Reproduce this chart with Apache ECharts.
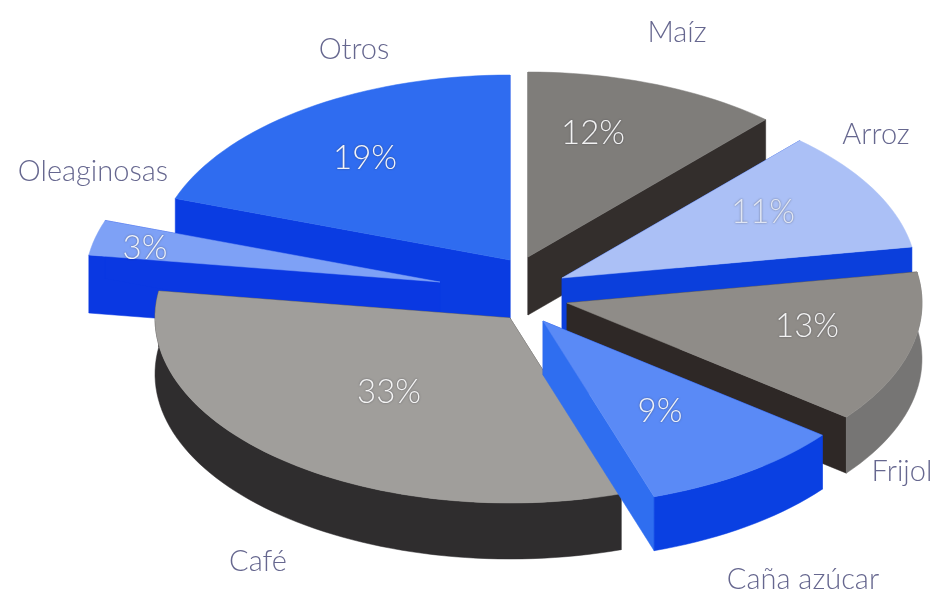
<!DOCTYPE html>
<html>
<head>
<meta charset="utf-8">
<script src="https://cdn.jsdelivr.net/npm/echarts@6/dist/echarts.min.js"></script>
<style>html,body{margin:0;padding:0;background:#fff}#chart{width:936px;height:604px}</style>
</head>
<body>
<div id="chart"></div>
<script>
// Crop shares, in percent, clockwise from twelve o'clock
const categories = ['Maíz', 'Arroz', 'Frijol', 'Caña azúcar', 'Café', 'Oleaginosas', 'Otros'];
const shares = [12, 11, 13, 9, 33, 3, 19];

// Projection of the tilted disc
const RX = 355, RY = 185, DEPTH = 56;
// Side sectors look slightly turned towards the back under the oblique view
const SIDE_SKEW = 2.5 * Math.PI / 180;

// Per-slice drawing details: exploded apex, paint order, colours and text anchors
const sliceStyle = {
  'Maíz':        {apex: [528, 257], order: 1, depth: 58, top: '#7f7d7a', rim: '#4a4644', start: '#332e2c', end: '#332e2c', pct: [593, 133], pctFill: '#f2f2f2', name: [677, 33]},
  'Arroz':       {apex: [562, 278], order: 3, depth: 56, top: '#abc0f6', rim: '#0b3fdc', start: '#0b3fdc', end: '#0b3fdc', pct: [763, 212], pctFill: '#dfe5f4', name: [876, 135]},
  'Frijol':      {apex: [567, 303], order: 4, depth: 56, top: '#8f8c88', rim: '#767574', start: '#2e2826', end: '#2e2826', pct: [807, 326], pctFill: '#f2f2f2', name: [902, 472]},
  'Caña azúcar': {apex: [543, 321], order: 6, depth: 54, top: '#5a8af6', rim: '#0a40e2', start: '#0a40e2', end: '#2f6ef0', pct: [660, 411], pctFill: '#eef2fb', name: [803, 580]},
  'Café':        {apex: [510, 318], order: 5, depth: 56, top: '#a09e9b', rim: '#2f2d2e', start: '#2f2d2e', end: '#2f2d2e', pct: [389, 392], pctFill: '#f4f4f4', name: [258, 562]},
  'Oleaginosas': {apex: [440, 282], order: 2, depth: 58, top: '#7ea1f6', rim: '#0a38e2', start: '#0a38e2', end: '#0a38e2', pct: [145, 248], pctFill: '#eef2fb', name: [93, 172]},
  'Otros':       {apex: [510, 260], order: 0, depth: 66, top: '#2f6cf0', rim: '#0a3ce2', start: '#0a3ce2', end: '#0a3ce2', pct: [365, 158], pctFill: '#f2f4fb', name: [354, 50]}
};

const total = shares.reduce((a, b) => a + b, 0);
const startAngles = [];
shares.reduce((acc, v, i) => { startAngles[i] = acc; return acc + v; }, 0);

function turnAngle(turn) {
  const t = turn / total * Math.PI * 2;
  return t - SIDE_SKEW * Math.sin(t) * Math.sin(t);
}

function rimPoint(apex, t) {
  return [apex[0] + RX * Math.sin(t), apex[1] - RY * Math.cos(t)];
}

function poly(points, fill, z2) {
  return {type: 'polygon', shape: {points}, style: {fill, stroke: fill, lineWidth: 0.5}, z2};
}

function renderSlice(params, api) {
  const i = params.dataIndex;
  const value = api.value(0);
  const s = sliceStyle[categories[i]];
  const down = p => [p[0], p[1] + s.depth];
  const arc = [], frontArc = [];
  const steps = Math.max(4, Math.round(value * 2));
  for (let k = 0; k <= steps; k++) {
    const t = turnAngle(startAngles[i] + value * k / steps);
    const p = rimPoint(s.apex, t);
    arc.push(p);
    // Only the stretch of rim facing the viewer shows its outer wall
    if (Math.cos(t) < 0.17) frontArc.push(p);
  }
  const z = s.order * 4;
  const first = arc[0], last = arc[arc.length - 1];
  const children = [
    poly([s.apex, first, down(first), down(s.apex)], s.start, z),
    poly([s.apex, last, down(last), down(s.apex)], s.end, z)
  ];
  if (frontArc.length > 1) {
    children.push(poly(frontArc.concat(frontArc.map(down).reverse()), s.rim, z + 1));
  }
  children.push(
    poly([s.apex].concat(arc), s.top, z + 2),
    {
      type: 'text', z2: 100,
      style: {
        x: s.pct[0], y: s.pct[1], text: value + '%',
        font: '300 33px Lato', fill: s.pctFill,
        textAlign: 'center', textVerticalAlign: 'middle',
        textShadowColor: 'rgba(50,50,60,0.6)', textShadowBlur: 2
      }
    },
    {
      type: 'text', z2: 100,
      style: {
        x: s.name[0], y: s.name[1], text: categories[i],
        font: '300 29px Lato', fill: '#66678f',
        textAlign: 'center', textVerticalAlign: 'middle'
      }
    }
  );
  return {type: 'group', children};
}

const chart = echarts.init(document.getElementById('chart'), null, {renderer: 'canvas'});
chart.setOption({
  animation: false,
  backgroundColor: '#ffffff',
  series: [{
    type: 'custom',
    coordinateSystem: 'none',
    silent: true,
    renderItem: renderSlice,
    data: shares.map(v => [v])
  }]
});
</script>
</body>
</html>
